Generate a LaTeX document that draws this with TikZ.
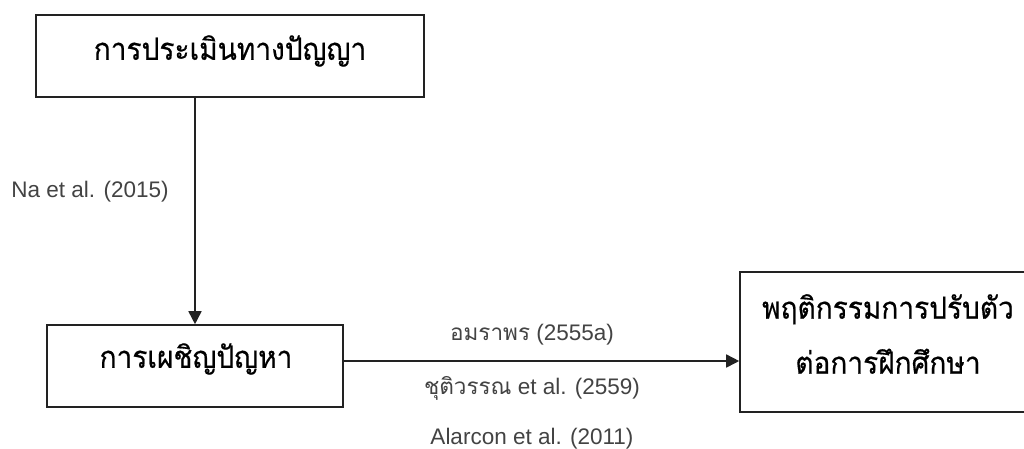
\documentclass[tikz,border=0pt]{standalone}
\usepackage{fontspec}
\setmainfont{Liberation Sans}
\newfontfamily\thai[Script=Thai]{Loma}
\newfontfamily\thaibox[Script=Thai,FakeBold=0.5,FakeStretch=0.92]{Loma}
\usetikzlibrary{arrows.meta}
\definecolor{ink}{HTML}{222222}
\tikzset{
  boxshape/.style={draw=ink, line width=1.6pt, inner sep=0pt},
  boxtext/.style={font=\thaibox\fontsize{30.5}{55}\selectfont, text=black, inner sep=0pt, align=center},
  reflabel/.style={font=\fontsize{22.5}{27}\selectfont, text=ink!85!white, inner sep=0pt},
  arr/.style={draw=ink, line width=1.6pt, -{Triangle[length=13pt,width=13pt]}}
}
\begin{document}
\begin{tikzpicture}[x=1pt,y=-1pt]
\useasboundingbox (0,0) rectangle (1024,448);
\fill[white] (0,0) rectangle (1024,448);
% boxes
\node[boxshape, minimum width=388pt, minimum height=82pt] (top) at (230,56) {};
\node[boxshape, minimum width=296pt, minimum height=82pt] (bot) at (195,366) {};
\node[boxshape, minimum width=296pt, minimum height=140pt] (rb) at (888,342) {};
% box texts
\node[boxtext] (toptxt) at (230,51) {การประเมินทางปัญญา};
\node[boxtext] (bottxt) at (196,359) {การเผชิญปัญหา};
\node[boxtext] (rbtxt) at (888,334) {พฤติกรรมการปรับตัว\\ต่อการฝึกศึกษา};
% connectors
\coordinate (hline) at (0,361);
\draw[arr] (top.south -| bot.north) -- (bot.north);
\draw[arr] (bot.east |- hline) -- (rb.west |- hline);
% labels
\node[reflabel] (na) at (90,192) {Na et al. (2015)};
\node[reflabel] (l1) at (532,335) {{\thai อมราพร} (2555a)};
\node[reflabel] (l2) at (532,388) {{\thai ชุติวรรณ} et al. (2559)};
\node[reflabel] (l3) at (532,439) {Alarcon et al. (2011)};
\end{tikzpicture}
\end{document}
